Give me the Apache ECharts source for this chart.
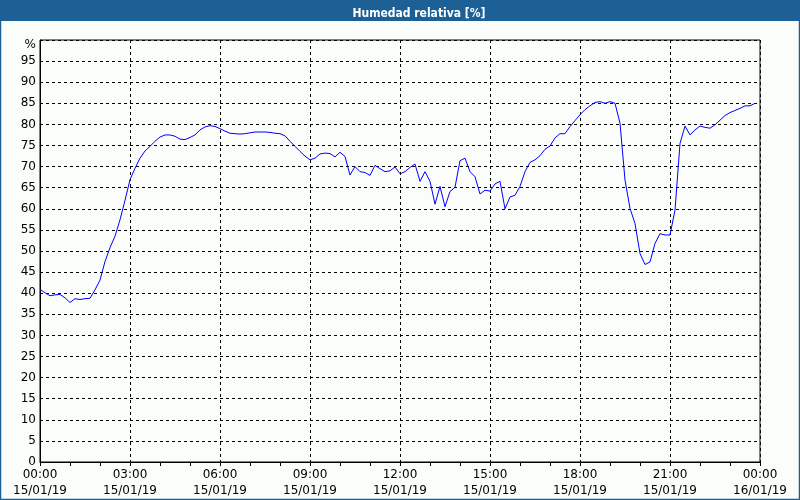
<!DOCTYPE html>
<html>
<head>
<meta charset="utf-8">
<script src="https://cdn.jsdelivr.net/npm/echarts@6/dist/echarts.min.js"></script>
<style>
html,body{margin:0;padding:0;background:#fbfdfb;}
#c{width:800px;height:500px;}
</style>
</head>
<body>
<div id="c"></div>
<script>
// Minutes since 15/01/19 00:00
const minutes = [
  0,10,20,30,40,50,60,70,80,90,100,110,120,130,140,150,160,170,180,190,
  200,210,220,230,240,250,260,270,280,290,300,310,320,330,340,350,360,370,380,390,
  400,410,420,430,440,450,460,470,480,490,500,510,520,530,540,550,560,570,580,590,
  600,610,620,630,640,650,660,670,680,690,700,710,720,730,740,750,760,770,780,790,
  800,810,820,830,840,850,860,870,880,890,900,910,920,930,940,950,960,970,980,990,
  1000,1010,1020,1030,1040,1050,1060,1070,1080,1090,1100,1110,1120,1130,1140,1150,1160,1170,1180,1190,
  1200,1210,1220,1230,1240,1250,1260,1270,1280,1290,1300,1310,1320,1330,1340,1350,1360,1370,1380,1390,
  1400,1410,1420,1430
];
const humidity = [
  40.9,40.1,39.4,39.6,39.7,38.9,37.8,38.7,38.5,38.7,38.8,40.8,43.1,47.5,50.8,53.5,57.4,62.0,66.9,69.6,
  72.0,73.7,74.8,76.0,77.0,77.5,77.5,77.2,76.5,76.4,76.9,77.5,78.7,79.4,79.7,79.5,79.0,78.4,77.9,77.8,
  77.7,77.8,78.0,78.2,78.2,78.2,78.1,77.9,77.8,77.3,76.0,74.8,73.6,72.5,71.6,72.0,73.0,73.2,73.1,72.3,
  73.4,72.4,68.0,70.0,68.8,68.6,67.9,70.3,69.5,68.8,69.0,69.9,68.3,68.8,69.8,70.6,66.5,68.8,66.5,61.1,
  65.3,60.5,64.1,65.1,71.4,72.0,68.8,67.6,63.5,64.4,64.2,65.9,66.5,60.0,62.8,63.2,65.3,68.8,71.0,71.6,
  72.6,74.1,74.9,76.8,77.8,77.8,79.5,80.9,82.3,83.5,84.4,85.2,85.4,85.0,85.4,85.0,80.3,66.8,60.1,56.5,
  49.4,46.8,47.4,51.8,54.1,53.8,53.8,59.7,75.5,79.6,77.5,78.7,79.6,79.3,79.1,79.9,81.0,82.1,82.8,83.3,
  83.8,84.4,84.4,85.0
];
const xTickLabels = [
  '00:00\n15/01/19','03:00\n15/01/19','06:00\n15/01/19','09:00\n15/01/19','12:00\n15/01/19',
  '15:00\n15/01/19','18:00\n15/01/19','21:00\n15/01/19','00:00\n16/01/19'
];
const titleText = 'Humedad relativa [%]';
const yTopLabel = '%';

const data = minutes.map((m, i) => [m, humidity[i]]);
const chart = echarts.init(document.getElementById('c'), null, {renderer: 'canvas'});
const font = 'Tahoma, "DejaVu Sans", sans-serif';
chart.setOption({
  animation: false,
  backgroundColor: '#fbfdfb',
  title: {
    text: titleText,
    left: 414, top: 3, textAlign: 'center',
    textStyle: {color: '#ffffff', fontSize: 12, fontWeight: 'bold', fontFamily: '"DejaVu Sans Condensed", "Liberation Sans Narrow", sans-serif'}
  },
  graphic: [
    {type: 'rect', z: -1, shape: {x: 0, y: 0, width: 800, height: 21}, style: {fill: '#1c6096'}},
    {type: 'rect', z: 10, shape: {x: 0.5, y: 0.5, width: 799, height: 499}, style: {fill: 'none', stroke: '#1c6096', lineWidth: 1.5}}
  ],
  grid: {left: 40, right: 40, top: 40, bottom: 38, show: true, borderColor: '#000', borderWidth: 1, backgroundColor: 'transparent'},
  xAxis: {
    type: 'value', min: 0, max: 1440, interval: 180,
    axisLine: {show: true, lineStyle: {color: '#000', width: 1}},
    axisTick: {show: true, length: 4, lineStyle: {color: '#000'}},
    minorTick: {show: true, splitNumber: 3, length: 4, lineStyle: {color: '#000'}},
    axisLabel: {
      color: '#000', fontSize: 12, fontFamily: font, lineHeight: 16, margin: 5,
      formatter: v => xTickLabels[Math.round(v / 180)]
    },
    splitLine: {show: true, lineStyle: {color: '#000', type: [3, 3], width: 1}}
  },
  yAxis: {
    type: 'value', min: 0, max: 100, interval: 5,
    axisLine: {show: true, lineStyle: {color: '#000', width: 1}},
    axisTick: {show: false},
    axisLabel: {
      color: '#000', fontSize: 12, fontFamily: font, margin: 4,
      formatter: v => (v === 100 ? '{p|' + yTopLabel + '}' : String(v)),
      rich: {p: {color: '#000', fontSize: 12, fontFamily: font, padding: [9, 0, 0, 0]}}
    },
    splitLine: {show: true, lineStyle: {color: '#000', type: [3, 3], width: 1}}
  },
  series: [{
    type: 'line', data: data, showSymbol: false, symbol: 'none',
    lineStyle: {color: '#0000ff', width: 1}, itemStyle: {color: '#0000ff'}
  }]
});
</script>
</body>
</html>
